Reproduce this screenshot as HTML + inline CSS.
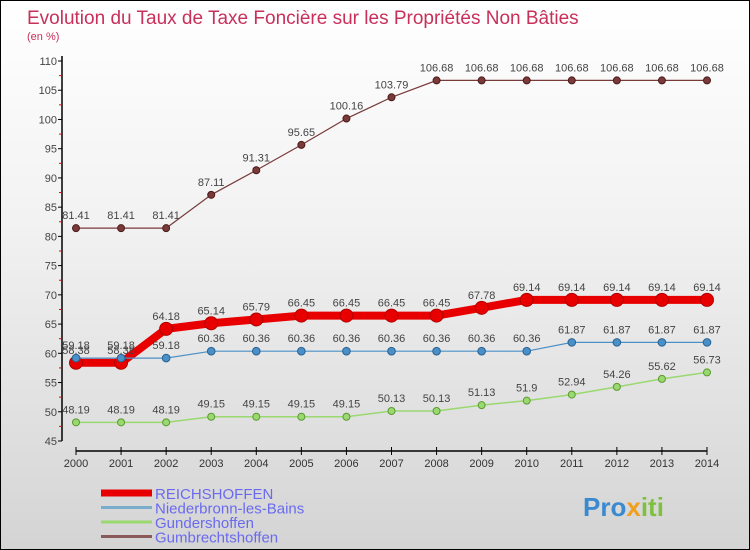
<!DOCTYPE html>
<html><head><meta charset="utf-8"><style>
body{margin:0}
#wrap{position:relative;width:748px;height:548px;border:1px solid #000;background:linear-gradient(#fff 0%,#f2f2f2 40%,#d4d4d4 100%);font-family:"Liberation Sans",sans-serif;overflow:hidden}
</style></head><body>
<div id="wrap">
<svg id="chart" width="748" height="548" style="position:absolute;left:0;top:0">
<text x="26" y="23" font-size="19" fill="#c8305a">Evolution du Taux de Taxe Foncière sur les Propriétés Non Bâties</text>
<text x="26" y="39" font-size="11" fill="#c8305a">(en %)</text>
</svg>
</div>
<script>
const years=[2000,2001,2002,2003,2004,2005,2006,2007,2008,2009,2010,2011,2012,2013,2014];
const yTicks=[45,50,55,60,65,70,75,80,85,90,95,100,105,110];
const reichshoffen=[58.38,58.38,64.18,65.14,65.79,66.45,66.45,66.45,66.45,67.78,69.14,69.14,69.14,69.14,69.14];
const niederbronn=[59.18,59.18,59.18,60.36,60.36,60.36,60.36,60.36,60.36,60.36,60.36,61.87,61.87,61.87,61.87];
const gundershoffen=[48.19,48.19,48.19,49.15,49.15,49.15,49.15,50.13,50.13,51.13,51.9,52.94,54.26,55.62,56.73];
const gumbrechtshoffen=[81.41,81.41,81.41,87.11,91.31,95.65,100.16,103.79,106.68,106.68,106.68,106.68,106.68,106.68,106.68];
const NS="http://www.w3.org/2000/svg";
const svg=document.getElementById('chart');
const x=i=>75+i*(631/14);
const y=v=>60+(110-v)*(380/65);
function mk(t,a,p){const e=document.createElementNS(NS,t);for(const k in a)e.setAttribute(k,a[k]);(p||svg).appendChild(e);return e;}
let ax=mk('line',{x1:61,y1:55,x2:61,y2:440,stroke:'#000','stroke-width':1.5});


let bx=mk('line',{x1:75,y1:450,x2:706,y2:450,stroke:'#000','stroke-width':1.5});


yTicks.forEach(v=>{
 mk('line',{x1:57,y1:y(v),x2:61,y2:y(v),stroke:'#000'});
 if(v<110) mk('line',{x1:58,y1:y(v+2.5),x2:61,y2:y(v+2.5),stroke:'#e00'});
 const t=mk('text',{x:56,y:y(v)+4,'font-size':11,fill:'#444','text-anchor':'end'});
 t.textContent=v;
 
 
});
years.forEach((yr,i)=>{
 mk('line',{x1:x(i),y1:446,x2:x(i),y2:454,stroke:'#000'});
 const t=mk('text',{x:x(i),y:466,'font-size':11,fill:'#333','text-anchor':'middle'});
 t.textContent=yr;
 
 
});
function series(vals,color,w,r,name,dark){
 const g=mk('g',{});
 
 
 mk('polyline',{points:vals.map((v,i)=>x(i)+','+y(v)).join(' '),fill:'none',stroke:color,'stroke-width':w},g);
 vals.forEach((v,i)=>{
  const c=mk('circle',{cx:x(i),cy:y(v),r:r,fill:color,stroke:dark,'stroke-width':1},g);
  
  
  const t=mk('text',{x:x(i),y:y(v)-9,'font-size':11,fill:'#444','text-anchor':'middle'},g);
  t.textContent=v;
 });
}
series(gumbrechtshoffen,'#7a3a3a',1.2,3.5,'gumbrechtshoffen-series','#4a1a1a');
series(gundershoffen,'#9ad870',1.5,3.5,'gundershoffen-series','#5a9a30');
series(reichshoffen,'#e80000',8,6.5,'reichshoffen-series','#b00000');
series(niederbronn,'#4a90c8',1.2,3.8,'niederbronn-series','#2a6090');
const leg=[['REICHSHOFFEN','#e80000',7],['Niederbronn-les-Bains','#7aaccc',3],['Gundershoffen','#9ad870',3],['Gumbrechtshoffen','#8a5a5a',3]];
leg.forEach((l,i)=>{
 const g=mk('g',{});
 
 
 const ly=492+i*14.5;
 mk('line',{x1:100,y1:ly,x2:151,y2:ly,stroke:l[1],'stroke-width':l[2]},g);
 const t=mk('text',{x:154,y:ly+6,'font-size':15,fill:'#6a6af0'},g);
 t.textContent=l[0];
});
const lg=mk('text',{x:582,y:515,'font-size':26,'font-weight':'bold',fill:'#3a8ad0'});
lg.innerHTML='Pro<tspan fill="#f0a020">x</tspan><tspan fill="#80c040">iti</tspan>';


</script>
</body></html>
